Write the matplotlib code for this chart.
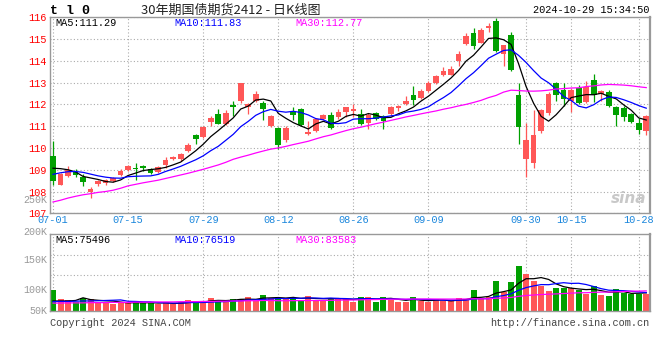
import numpy as np
import pandas as pd
import matplotlib
matplotlib.use("Agg")
import matplotlib.pyplot as plt

# trading days of TL0, 2024-07-01 .. 2024-10-29
holidays = ["2024-09-16", "2024-09-17", "2024-10-01", "2024-10-02",
            "2024-10-03", "2024-10-04", "2024-10-07"]
days = pd.bdate_range("2024-07-01", "2024-10-29")
days = days[~days.isin(pd.to_datetime(holidays))]
day_labels = [d.strftime("%m-%d") for d in days]

tick_dates = ["07-01", "07-15", "07-29", "08-12", "08-26", "09-09", "09-30", "10-15", "10-28"]

opens = [109.65, 108.32, 108.71, 108.90, 108.67, 108.00, 108.33, 108.38, 108.47, 108.74,
         108.97, 109.06, 109.17, 109.04, 108.90, 109.20, 109.50, 109.50, 109.88, 110.59,
         110.49, 111.17, 111.55, 111.10, 111.97, 112.16, 111.88, 112.16, 112.05, 110.99,
         110.91, 110.38, 111.63, 111.78, 110.64, 110.79, 111.32, 111.50, 111.40, 111.66,
         111.72, 111.58, 111.14, 111.60, 111.45, 111.55, 111.82, 112.00, 112.42, 112.28,
         112.61, 113.00, 113.34, 113.37, 113.98, 114.79, 115.29, 114.83, 115.51, 115.83,
         114.32, 115.18, 112.42, 109.51, 109.33, 110.78, 111.61, 112.98, 112.64, 112.16,
         112.77, 112.11, 113.10, 112.46, 112.59, 111.90, 111.82, 111.55, 111.14, 110.79]
highs = [110.30, 108.85, 109.19, 109.05, 108.80, 108.20, 108.52, 108.56, 108.68, 109.03,
         109.20, 109.30, 109.23, 109.10, 109.15, 109.58, 109.65, 109.77, 110.22, 110.62,
         111.00, 111.47, 111.78, 111.75, 112.16, 113.00, 112.08, 112.60, 112.16, 111.50,
         110.95, 111.02, 111.90, 111.82, 111.25, 111.38, 111.55, 111.65, 111.80, 111.90,
         112.00, 111.80, 111.60, 111.65, 111.50, 111.92, 111.98, 112.39, 112.84, 112.70,
         113.08, 113.35, 113.72, 113.75, 114.44, 115.28, 115.51, 115.50, 115.74, 115.97,
         114.75, 115.33, 113.00, 111.15, 111.73, 111.80, 112.55, 113.05, 113.00, 112.77,
         112.90, 113.07, 113.40, 112.65, 112.65, 111.95, 111.92, 111.60, 111.36, 111.50]
lows = [108.28, 108.30, 108.65, 108.65, 108.26, 107.68, 108.24, 108.28, 108.42, 108.72,
        108.93, 108.52, 108.93, 108.82, 108.85, 109.10, 109.45, 109.42, 109.80, 110.18,
        110.45, 110.99, 111.08, 111.05, 111.47, 112.08, 111.55, 112.10, 111.30, 110.95,
        109.95, 110.26, 111.29, 111.00, 110.60, 110.72, 111.28, 110.85, 111.32, 111.40,
        111.40, 111.05, 110.87, 111.30, 110.85, 111.45, 111.70, 111.98, 111.96, 112.25,
        112.58, 112.95, 113.30, 113.33, 113.78, 114.72, 114.53, 114.80, 115.33, 114.40,
        113.78, 113.55, 110.17, 108.65, 109.10, 110.70, 111.50, 112.14, 111.93, 111.66,
        112.00, 112.05, 112.11, 112.16, 111.90, 111.02, 111.25, 111.15, 110.64, 110.60]
closes = [108.47, 108.82, 108.98, 108.78, 108.42, 108.12, 108.47, 108.51, 108.62, 108.93,
          109.15, 109.02, 109.09, 108.85, 109.11, 109.47, 109.60, 109.73, 110.14, 110.41,
          110.97, 111.36, 111.10, 111.60, 111.88, 113.00, 112.03, 112.50, 111.81, 111.45,
          110.15, 110.91, 111.50, 111.05, 110.75, 111.32, 111.50, 110.91, 111.66, 111.86,
          111.78, 111.10, 111.50, 111.32, 111.25, 111.86, 111.93, 112.16, 112.19, 112.61,
          113.00, 113.30, 113.52, 113.63, 114.33, 115.15, 114.66, 115.41, 115.60, 114.45,
          114.73, 113.59, 110.97, 110.37, 110.60, 111.73, 112.48, 112.45, 112.27, 112.64,
          112.08, 112.81, 112.42, 112.61, 111.93, 111.50, 111.43, 111.20, 110.84, 111.45]
volumes = [88000, 50000, 46000, 36000, 56000, 50000, 36000, 36000, 29000, 36000,
           32000, 42000, 32000, 32000, 29000, 36000, 29000, 36000, 46000, 42000,
           32000, 56000, 46000, 42000, 50000, 50000, 60000, 42000, 67000, 56000,
           56000, 50000, 56000, 46000, 63000, 46000, 46000, 56000, 50000, 50000,
           39000, 60000, 60000, 39000, 60000, 46000, 39000, 39000, 60000, 42000,
           36000, 50000, 42000, 42000, 56000, 50000, 88000, 50000, 60000, 126000,
           81000, 123000, 190000, 155000, 126000, 105000, 84000, 97000, 97000, 95000,
           88000, 70000, 105000, 67000, 63000, 92000, 77000, 70000, 70000, 70000]

# moving averages before the window is full (they use June data)
ma5_head = [109.07, 109.05, 109.00, 108.90]
ma10_head = [108.79, 108.86, 108.91, 108.92, 108.88, 108.80, 108.72, 108.66, 108.62]
ma30_head = [107.52, 107.60, 107.70, 107.78, 107.85, 107.90, 107.96, 108.00, 108.06, 108.15,
             108.26, 108.33, 108.40, 108.46, 108.52, 108.60, 108.68, 108.76, 108.84, 108.93,
             109.02, 109.12, 109.22, 109.34, 109.48, 109.58, 109.67, 109.77, 109.86]
vma5_head = [42000, 42000, 42000, 44000]
vma10_head = [39000, 40000, 40000, 41000, 42000, 42000, 43000, 44000, 45000]
vma30_head = [33000, 33000, 34000, 34000, 34000, 35000, 35000, 35000, 36000, 36000,
              36000, 37000, 37000, 37000, 38000, 38000, 38000, 39000, 39000, 39000,
              40000, 40000, 41000, 41000, 42000, 42000, 43000, 43000, 44000]

price_legend = ["MA5:111.29", "MA10:111.83", "MA30:112.77"]
vol_legend = ["MA5:75496", "MA10:76519", "MA30:83583"]
vol_tick_labels = ["50K", "100K", "150K", "200K", "250K"]


def moving(values, n, head):
    m = pd.Series(values, dtype=float).rolling(n).mean().to_numpy()
    m[:n - 1] = head
    return m


ma_colors = ["black", "#0000ff", "#ff00ff"]
RED = "#ff5757"
GREEN = "#00a000"
GRID = "#aaaaaa"
MONO = "Liberation Mono"

x = np.arange(len(closes))
o = np.array(opens)
c = np.array(closes)
up = c >= o
colors = np.where(up, RED, GREEN)
tick_pos = [day_labels.index(d) for d in tick_dates]

W, H = 660, 360
fig = plt.figure(figsize=(W / 100, H / 100), dpi=100)


def px(xp, yp):
    return xp / W, 1 - yp / H


ax = fig.add_axes([50 / W, (H - 213.3) / H, 600 / W, 196 / H])
vax = fig.add_axes([50 / W, (H - 311) / H, 600 / W, 77 / H])

# price panel
body_bot = np.minimum(o, c)
body_h = np.maximum(np.abs(c - o), 0.04)
ax.vlines(x, lows, highs, colors=colors, linewidth=0.9, zorder=2)
ax.bar(x, body_h, bottom=body_bot, width=0.76, color=colors, linewidth=0, zorder=3)
for n, head, col in zip([5, 10, 30], [ma5_head, ma10_head, ma30_head], ma_colors):
    ax.plot(x, moving(closes, n, head), color=col, linewidth=0.9, zorder=4)

ax.set_xlim(-0.4, 79.5)
ax.set_ylim(107, 116)
ax.set_yticks(range(107, 117))
ax.set_yticklabels([str(v) for v in range(107, 117)], color="#ff0000",
                   fontsize=7.4, family=MONO)
ax.set_xticks(tick_pos)
ax.set_xticklabels(tick_dates, color="#1a86dc", fontsize=7.4, family=MONO)
ax.tick_params(axis="y", length=0, pad=2.5)
ax.tick_params(axis="x", length=0, pad=1.5)
ax.grid(True, color=GRID, linestyle=(0, (1, 2)), linewidth=0.8, zorder=0)
ax.set_axisbelow(True)

# volume panel
vax.bar(x, volumes, width=0.8, color=colors, linewidth=0, zorder=2)
for n, head, col in zip([5, 10, 30], [vma5_head, vma10_head, vma30_head], ma_colors):
    vax.plot(x, moving(volumes, n, head), color=col, linewidth=0.9, zorder=3)
vax.set_xlim(-0.4, 79.5)
vax.set_ylim(0, 322000)
vax.set_xticks(tick_pos)
vax.set_yticks([150000, 234000])
vax.tick_params(length=0, labelleft=False, labelbottom=False)
vax.grid(True, color=GRID, linestyle=(0, (1, 2)), linewidth=0.8, zorder=0)
vax.set_axisbelow(True)
for lab, fy in zip(vol_tick_labels, [0.0, 0.273, 0.666, 1.03, 1.437]):
    vax.text(-0.005, fy, lab, transform=vax.transAxes, ha="right", va="center",
             color="#999999", fontsize=7.2, family=MONO, zorder=1)

for a in (ax, vax):
    for s in a.spines.values():
        s.set_color("#999999")
        s.set_linewidth(1.0)
    a.spines["right"].set_linewidth(1.6)

# legends
for txt, xp, col in zip(price_legend, [55, 174, 295], ma_colors):
    fig.text(*px(xp, 22.5), txt, color=col, fontsize=7.4, family=MONO, va="center")
for txt, xp, col in zip(vol_legend, [55, 174, 295], ma_colors):
    fig.text(*px(xp, 240), txt, color=col, fontsize=7.4, family=MONO, va="center")

# header and footer
fig.text(*px(50, 11), "t l 0", fontsize=9.5, family=MONO, fontweight="bold", va="center")
fig.text(*px(231, 10), "30年期国债期货2412 - 日K线图", fontsize=9.4, color="#222222",
         family=["Noto Sans CJK SC", "DejaVu Sans"], ha="center", va="center")
fig.text(*px(649, 10), "2024-10-29 15:34:50", fontsize=7.4, family=MONO,
         ha="right", va="center")
fig.text(*px(50, 323), "Copyright 2024 SINA.COM", fontsize=7.4, family=MONO,
         color="#444444", va="center")
fig.text(*px(649, 323), "http://finance.sina.com.cn", fontsize=7.4, family=MONO,
         color="#444444", ha="right", va="center")
ax.text(0.965, 0.075, "sina", transform=ax.transAxes, fontsize=11, color="#c8c8c8",
        fontweight="bold", style="italic", ha="center", va="center")

fig.savefig("out.png", dpi=100)
